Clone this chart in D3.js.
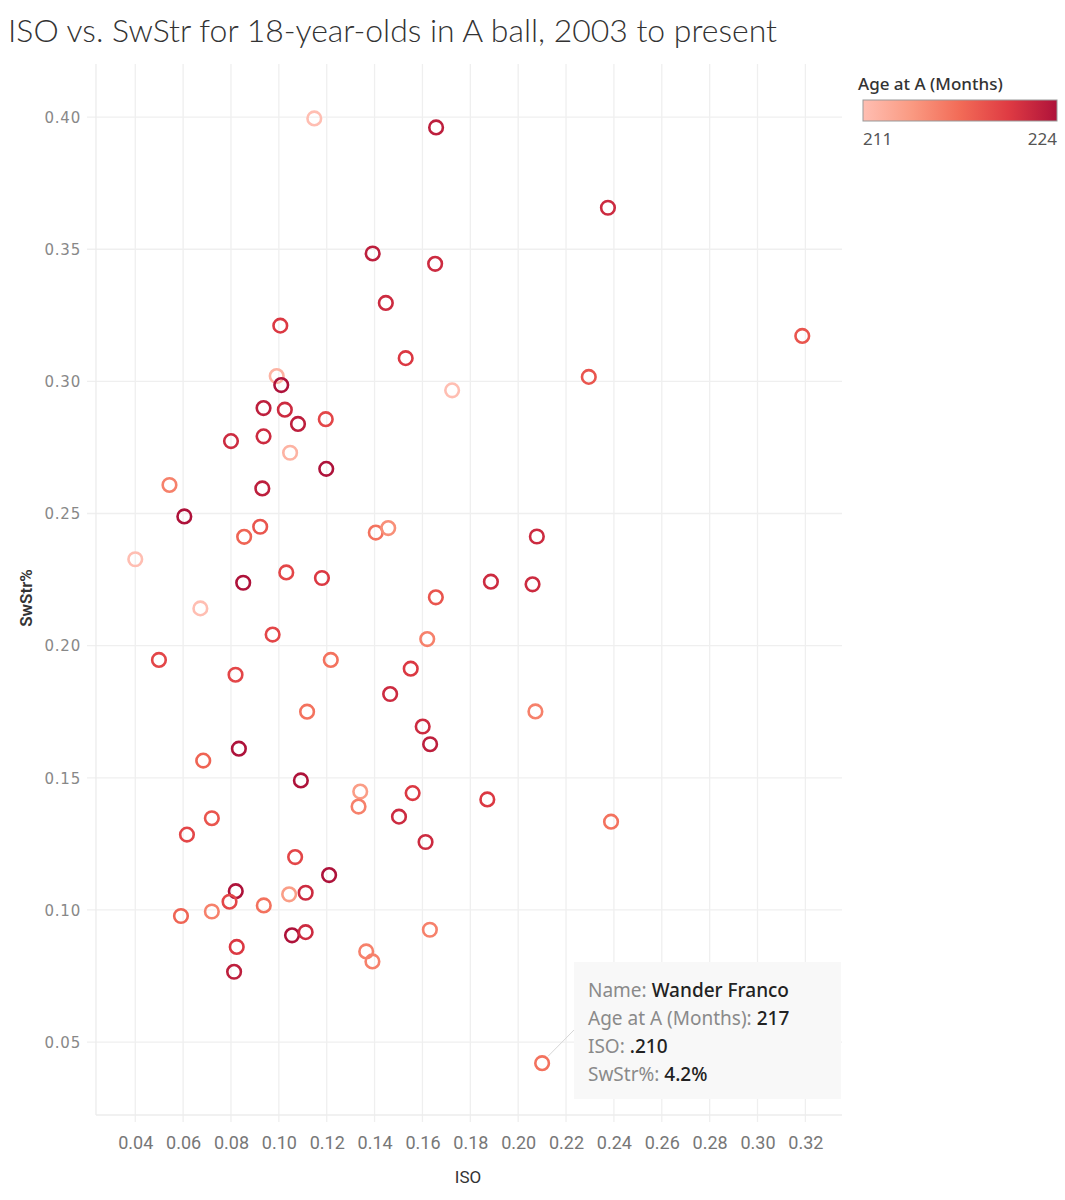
<!DOCTYPE html>
<html>
<head>
<meta charset="utf-8">
<script src="https://cdn.jsdelivr.net/npm/d3@7"></script>
<style>
  body { margin: 0; background: #fff; }
  svg { display: block; }
</style>
</head>
<body>
<div id="chart"></div>
<script>
// ISO, SwStr and age (months) for each player
const iso = [
  0.1148, 0.1657, 0.2375, 0.1392, 0.1653, 0.1447, 0.1006, 0.1530, 0.3187, 0.2295,
  0.0991, 0.1010, 0.1724, 0.0936, 0.1025, 0.1080, 0.1196, 0.0800, 0.0936, 0.1047,
  0.1198, 0.0543, 0.0931, 0.0605, 0.0922, 0.0855, 0.1405, 0.1457, 0.2078, 0.0400,
  0.1031, 0.1180, 0.0851, 0.1886, 0.2060, 0.1656, 0.0672, 0.0974, 0.1620, 0.0499,
  0.1217, 0.1551, 0.0819, 0.1465, 0.1118, 0.2072, 0.1601, 0.1632, 0.0833, 0.0684,
  0.1092, 0.1340, 0.1333, 0.1559, 0.1871, 0.2388, 0.0720, 0.1502, 0.0616, 0.1613,
  0.1068, 0.1210, 0.0820, 0.0794, 0.1043, 0.1112, 0.0937, 0.0591, 0.0720, 0.0824,
  0.0813, 0.1055, 0.1112, 0.1631, 0.1365, 0.1391, 0.2100
];
const swstr = [
  0.3995, 0.3961, 0.3657, 0.3484, 0.3445, 0.3297, 0.3211, 0.3088, 0.3172, 0.3017,
  0.3020, 0.2986, 0.2966, 0.2899, 0.2893, 0.2839, 0.2857, 0.2774, 0.2792, 0.2730,
  0.2669, 0.2608, 0.2595, 0.2489, 0.2450, 0.2412, 0.2428, 0.2445, 0.2413, 0.2327,
  0.2277, 0.2256, 0.2238, 0.2242, 0.2232, 0.2183, 0.2141, 0.2042, 0.2025, 0.1946,
  0.1946, 0.1913, 0.1890, 0.1817, 0.1750, 0.1751, 0.1694, 0.1627, 0.1610, 0.1565,
  0.1490, 0.1448, 0.1391, 0.1442, 0.1418, 0.1334, 0.1347, 0.1353, 0.1285, 0.1257,
  0.1200, 0.1132, 0.1071, 0.1031, 0.1059, 0.1065, 0.1017, 0.0977, 0.0994, 0.0860,
  0.0766, 0.0904, 0.0916, 0.0925, 0.0843, 0.0805, 0.0420
];
const age = [
  211, 223, 222, 223, 222, 222, 221, 221, 219, 219,
  212, 224, 211, 223, 222, 223, 220, 222, 222, 212,
  224, 216, 223, 224, 219, 218, 217, 215, 222, 211,
  220, 221, 224, 222, 222, 219, 211, 220, 216, 220,
  217, 221, 220, 222, 217, 216, 222, 223, 224, 218,
  224, 214, 216, 221, 221, 217, 219, 222, 220, 222,
  220, 224, 224, 220, 214, 222, 217, 218, 216, 221,
  223, 224, 222, 216, 216, 216, 217
];

const xTicks = [0.04, 0.06, 0.08, 0.10, 0.12, 0.14, 0.16, 0.18, 0.20, 0.22, 0.24, 0.26, 0.28, 0.30, 0.32];
const yTicks = [0.05, 0.10, 0.15, 0.20, 0.25, 0.30, 0.35, 0.40];
const ageRange = [211, 224];
const palette = ["#ffbeb2", "#fa9a82", "#f26b57", "#df3b43", "#ae123a"];

// highlighted point
const tip = { name: "Wander Franco", age: 217, iso: 0.210, swstr: 0.042 };

const W = 1065, H = 1200;
const plot = { left: 96, right: 842, top: 64, bottom: 1115 };

const svg = d3.select("#chart").append("svg")
  .attr("width", W).attr("height", H);

const x = d3.scaleLinear().domain([0.0236, 0.3353]).range([plot.left, plot.right]);
const y = d3.scaleLinear().domain([0.0224, 0.4201]).range([plot.bottom, plot.top]);

const color = d3.scaleLinear()
  .domain(d3.range(palette.length).map(i => ageRange[0] + i * (ageRange[1] - ageRange[0]) / (palette.length - 1)))
  .range(palette)
  .interpolate(d3.interpolateRgb);

// title
svg.append("text")
  .attr("x", 8).attr("y", 42)
  .attr("textLength", 769)
  .attr("lengthAdjust", "spacingAndGlyphs")
  .style("font-family", "Lato, sans-serif")
  .style("font-weight", 300)
  .style("font-size", "31px")
  .style("fill", "#333")
  .text("ISO vs. SwStr for 18-year-olds in A ball, 2003 to present");

// grid
const grid = svg.append("g");
grid.selectAll(".vg").data(xTicks).enter().append("line")
  .attr("x1", d => x(d)).attr("x2", d => x(d))
  .attr("y1", plot.top).attr("y2", plot.bottom + 7)
  .attr("stroke", "#efefef").attr("stroke-width", 1.3);
grid.selectAll(".hg").data(yTicks).enter().append("line")
  .attr("x1", plot.left - 9).attr("x2", plot.right)
  .attr("y1", d => y(d)).attr("y2", d => y(d))
  .attr("stroke", "#efefef").attr("stroke-width", 1.3);
grid.append("line")
  .attr("x1", plot.left).attr("x2", plot.left)
  .attr("y1", plot.top).attr("y2", plot.bottom)
  .attr("stroke", "#ececec").attr("stroke-width", 1.3);
grid.append("line")
  .attr("x1", plot.left).attr("x2", plot.right)
  .attr("y1", plot.bottom).attr("y2", plot.bottom)
  .attr("stroke", "#ececec").attr("stroke-width", 1.3);

// axes labels
const xAxis = svg.append("g")
  .attr("transform", `translate(0,${plot.bottom + 18})`)
  .call(d3.axisBottom(x).tickValues(xTicks).tickFormat(d3.format(".2f")).tickSize(0));
xAxis.select(".domain").remove();
xAxis.selectAll("text")
  .style("font-family", "'Liberation Sans Narrow', 'Roboto', sans-serif")
  .style("font-size", "18px")
  .style("fill", "#777");

const yAxis = svg.append("g")
  .attr("transform", `translate(${plot.left - 12},0)`)
  .call(d3.axisLeft(y).tickValues(yTicks).tickFormat(d3.format(".2f")).tickSize(0));
yAxis.select(".domain").remove();
yAxis.selectAll("text")
  .attr("dy", "0.35em")
  .style("font-family", "'DejaVu Sans', sans-serif")
  .style("font-size", "15px")
  .style("letter-spacing", "0.8px")
  .style("fill", "#888");

svg.append("text")
  .attr("x", 468).attr("y", 1183)
  .attr("text-anchor", "middle")
  .style("font-family", "'Liberation Sans Narrow', 'Roboto', sans-serif")
  .style("font-size", "17px")
  .style("fill", "#333")
  .text("ISO");

svg.append("text")
  .attr("transform", "translate(32,598) rotate(-90)")
  .attr("text-anchor", "middle")
  .style("font-family", "'Liberation Sans Narrow', 'Roboto', sans-serif")
  .style("font-size", "17px")
  .style("font-weight", 600)
  .style("fill", "#333")
  .text("SwStr%");

// points
const points = iso.map((v, i) => ({ iso: v, swstr: swstr[i], age: age[i] }));
svg.append("g").selectAll("circle").data(points).enter().append("circle")
  .attr("cx", d => x(d.iso))
  .attr("cy", d => y(d.swstr))
  .attr("r", 6.8)
  .attr("fill", "none")
  .attr("stroke", d => color(d.age))
  .attr("stroke-width", 2.6);

// tooltip
const tb = { x: 574, y: 962, w: 267, h: 137 };
svg.append("line")
  .attr("x1", x(tip.iso) + 6).attr("y1", y(tip.swstr) - 7)
  .attr("x2", tb.x).attr("y2", 1030)
  .attr("stroke", "#d6d6d6").attr("stroke-width", 1);
svg.append("rect")
  .attr("x", tb.x).attr("y", tb.y).attr("width", tb.w).attr("height", tb.h)
  .attr("fill", "#f8f8f8");
const lines = [
  ["Name: ", tip.name],
  ["Age at A (Months): ", String(tip.age)],
  ["ISO: ", d3.format(".3f")(tip.iso).replace(/^0/, "")],
  ["SwStr%: ", d3.format(".1%")(tip.swstr)]
];
const tt = svg.append("g")
  .style("font-family", "'Noto Sans', sans-serif")
  .style("font-size", "19px");
lines.forEach((l, i) => {
  const t = tt.append("text").attr("x", tb.x + 14).attr("y", 997 + i * 28);
  t.append("tspan").style("fill", "#8a8a8a").text(l[0]);
  t.append("tspan").style("fill", "#222").style("font-weight", 500).text(l[1]);
});

// legend
const lg = svg.append("g");
lg.append("text")
  .attr("x", 858).attr("y", 90)
  .style("font-family", "'Noto Sans', sans-serif")
  .style("font-size", "17px")
  .style("font-weight", 500)
  .style("fill", "#333")
  .text("Age at A (Months)");
const grad = svg.append("defs").append("linearGradient").attr("id", "ageGrad");
grad.selectAll("stop").data(palette).enter().append("stop")
  .attr("offset", (d, i) => i / (palette.length - 1))
  .attr("stop-color", d => d);
lg.append("rect")
  .attr("x", 863).attr("y", 100).attr("width", 194).attr("height", 21)
  .attr("fill", "url(#ageGrad)")
  .attr("stroke", "#999").attr("stroke-width", 1);
lg.append("text")
  .attr("x", 863).attr("y", 145)
  .style("font-family", "'Noto Sans', sans-serif")
  .style("font-size", "17px").style("fill", "#555")
  .text(ageRange[0]);
lg.append("text")
  .attr("x", 1057).attr("y", 145).attr("text-anchor", "end")
  .style("font-family", "'Noto Sans', sans-serif")
  .style("font-size", "17px").style("fill", "#555")
  .text(ageRange[1]);
</script>
</body>
</html>
